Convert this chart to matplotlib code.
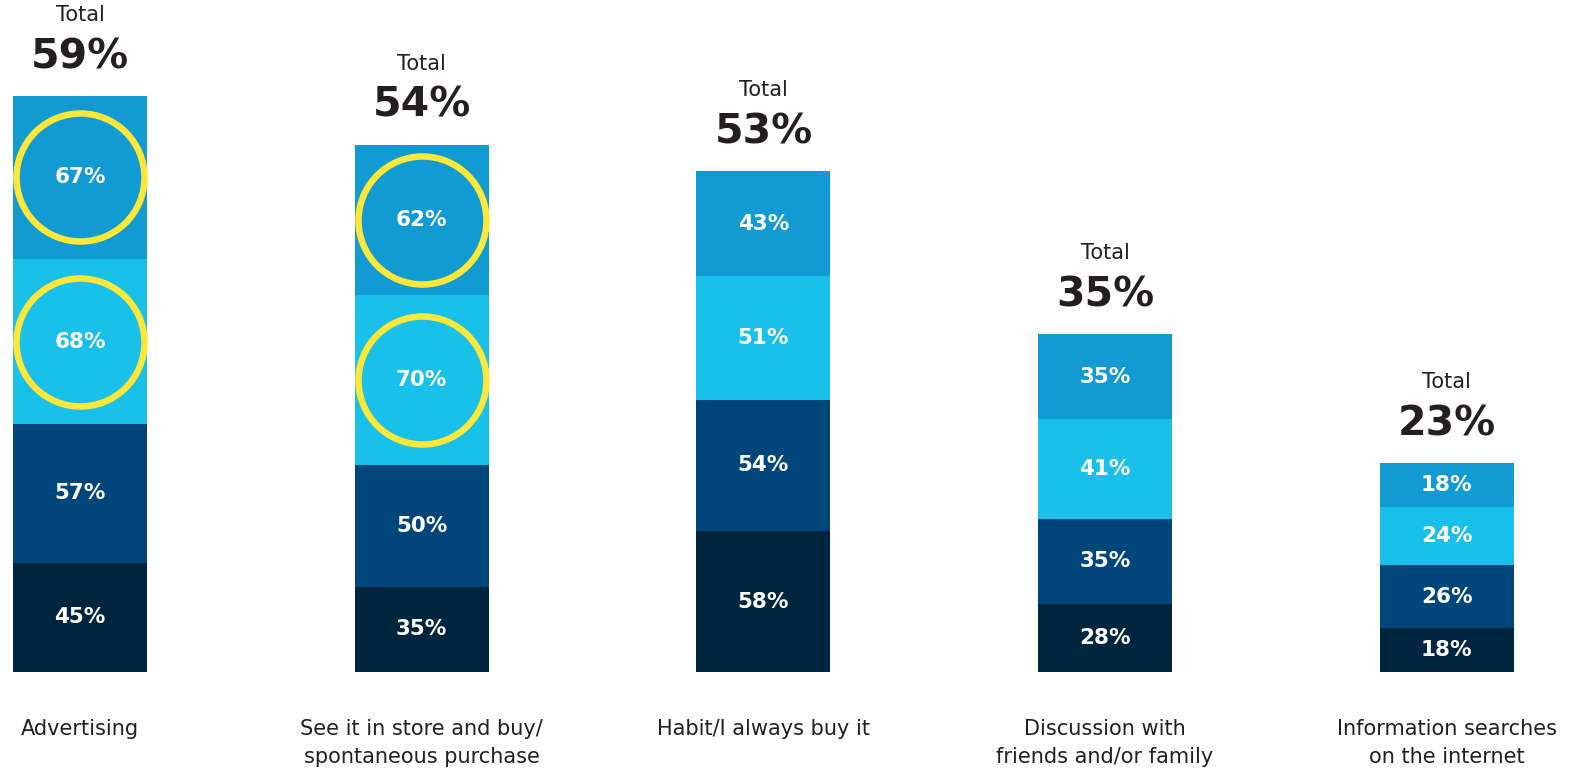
import matplotlib.pyplot as plt
import numpy as np

plt.rcParams['font.family'] = ['DejaVu Sans']

# reasons for purchase, stacked by group (bottom -> top)
categories = ["Advertising", "See it in store and buy/\nspontaneous purchase",
              "Habit/I always buy it", "Discussion with\nfriends and/or family",
              "Information searches\non the internet"]
totals = [59, 54, 53, 35, 23]
seg_1 = [45, 35, 58, 28, 18]
seg_2 = [57, 50, 54, 35, 26]
seg_3 = [68, 70, 51, 41, 24]
seg_4 = [67, 62, 43, 35, 18]
# (bar, segment) pairs that get a yellow ring
highlighted = [(0, 2), (0, 3), (1, 2), (1, 3)]

kolory = ["#00263f", "#00467a", "#18c0ea", "#119bd2"]
segmenty = [seg_1, seg_2, seg_3, seg_4]

W, H, DPI = 1579, 772, 100
fig = plt.figure(figsize=(W / DPI, H / DPI), dpi=DPI)
ax = fig.add_axes([0, 0, 1, 1])

krok = 341.7        # px between bar centres
px_na_jedn = 2.43   # px per percentage point
x0, y0 = 80, 672    # first bar centre, baseline (px from top)
ax.set_xlim(-x0 / krok, (W - x0) / krok)
ax.set_ylim(-(H - y0) / px_na_jedn, y0 / px_na_jedn)
ax.axis('off')

x = np.arange(len(categories))
szer = 134 / krok
dol = np.zeros(len(categories))
for i, (wart, kol) in enumerate(zip(segmenty, kolory)):
    wart = np.array(wart, dtype=float)
    ax.bar(x, wart, bottom=dol, width=szer, color=kol, linewidth=0)
    for j in range(len(x)):
        srodek = dol[j] + wart[j] / 2
        ax.text(x[j], srodek, f"{int(wart[j])}%", ha='center', va='center',
                color='white', fontsize=15.5, fontweight='bold')
        if (j, i) in highlighted:
            ax.plot(x[j], srodek, 'o', markersize=128 * 0.72, markerfacecolor='none',
                    markeredgecolor='#fde83a', markeredgewidth=6.5 * 0.72)
    dol += wart

for j in range(len(x)):
    ax.annotate("Total", (x[j], dol[j]), xytext=(0, 81 * 0.72), textcoords='offset points',
                ha='center', va='center', fontsize=15, color='#231f20')
    ax.annotate(f"{totals[j]}%", (x[j], dol[j]), xytext=(0, 39 * 0.72), textcoords='offset points',
                ha='center', va='center', fontsize=29.5, fontweight='bold', color='#231f20')
    ax.annotate(categories[j], (x[j], 0), xytext=(0, -47 * 0.72), textcoords='offset points',
                ha='center', va='top', fontsize=15, color='#231f20', linespacing=1.5)

fig.savefig('out.png', dpi=DPI, facecolor='white')
